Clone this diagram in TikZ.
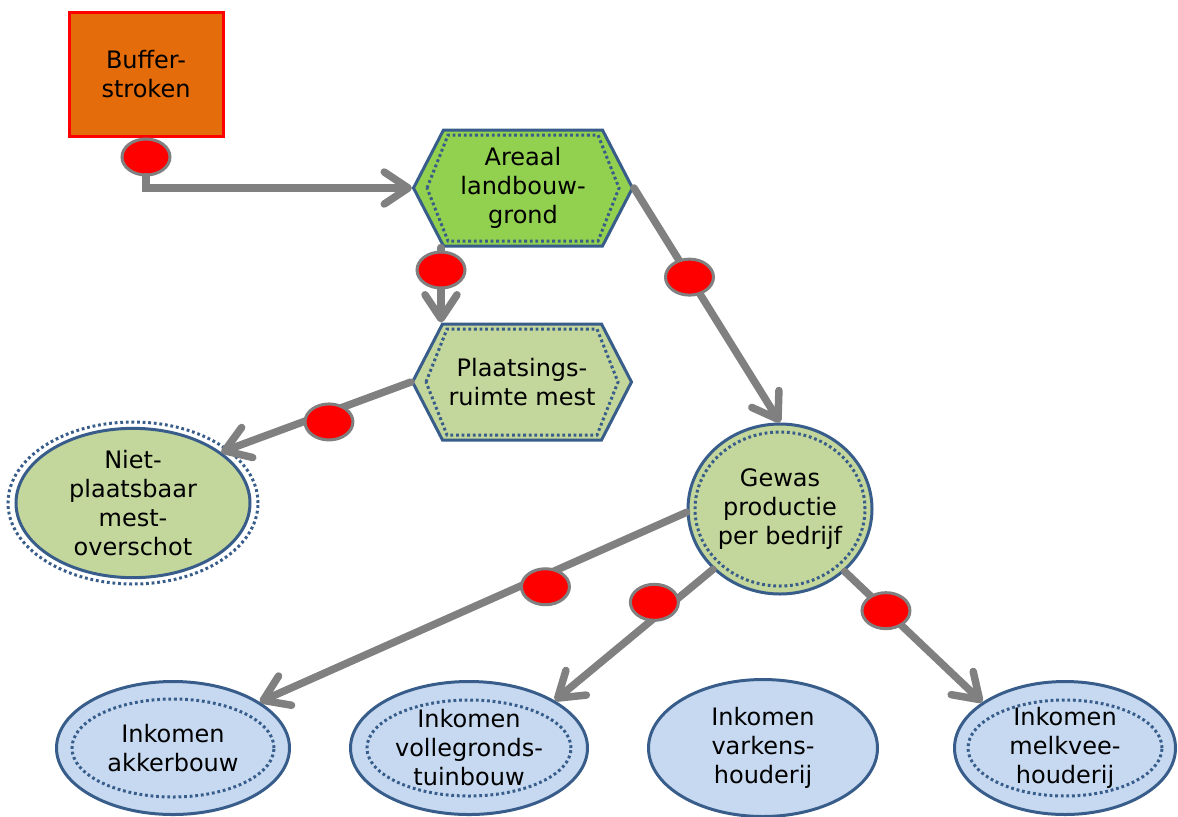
\documentclass[tikz,border=0pt]{standalone}
\usepackage{fontspec}
\setmainfont{DejaVu Sans}
\usetikzlibrary{positioning,shapes.geometric,arrows.meta}

\begin{document}
\begin{tikzpicture}[x=0.5pt,y=-0.5pt,
    every node/.style={font=\fontsize{12}{14.5}\selectfont, align=center, inner sep=0pt},
    box/.style={draw=red, line width=1.5pt, fill=bufferorange, minimum width=77pt, minimum height=62pt},
    ring/.style={draw=borderblue, line width=1.5pt, dash pattern=on 1.4pt off 1.4pt},
    hexa/.style={rectangle, outer sep=0pt, minimum width=111pt, minimum height=59.5pt,
        path picture={
            \filldraw[draw=borderblue, fill=#1, line width=1.5pt] (path picture bounding box.center)
                ++(-109.5,0) -- ++(30,-58) -- ++(159,0) -- ++(30,58) -- ++(-30,58) -- ++(-159,0) -- cycle;
            \draw[ring] (path picture bounding box.center)
                ++(-96,0) -- ++(21,-53) -- ++(150,0) -- ++(21,53) -- ++(-21,53) -- ++(-150,0) -- cycle;
        }},
    oval/.style={ellipse, draw=borderblue, line width=1.5pt},
    conn/.style={draw=linegray, line width=3.75pt, line cap=round, -{Straight Barb[length=12pt,width=16pt,round]}},
    marker/.style={ellipse, draw=linegray, line width=1.5pt, fill=red, minimum width=24pt, minimum height=18pt}
]
        % Define colors
        \definecolor{bufferorange}{RGB}{228,108,10}
        \definecolor{areaalgreen}{RGB}{146,208,80}
        \definecolor{olivelight}{RGB}{195,214,155}
        \definecolor{lightblue}{RGB}{198,217,241}
        \definecolor{borderblue}{RGB}{56,93,138}
        \definecolor{linegray}{RGB}{128,128,128}

        \useasboundingbox (0,0) rectangle (1178,816);

        % Boxes
        \node[box] (buffer) at (146,74) {Buffer-\\stroken};
        \node[marker, below=0pt of buffer] (mbuf) {};
        \node[hexa=areaalgreen] (areaal) at (523,188) {Areaal\\landbouw-\\grond};
        \node[hexa=olivelight] (plaatsing) at (522,382) {Plaatsings-\\ruimte mest};
        \node[oval, fill=olivelight, minimum width=117pt, minimum height=74pt] (niet) at (133,503) {Niet-\\plaatsbaar\\mest-\\overschot};
        \node[oval, fill=olivelight, minimum width=92pt, minimum height=85pt] (gewas) at (780,509) {Gewas\\productie\\per bedrijf};

        % Income
        \node[oval, fill=lightblue, minimum width=116.5pt, minimum height=66.5pt] (akker) at (173,748) {Inkomen\\akkerbouw};
        \node[oval, fill=lightblue, minimum width=118.5pt, minimum height=66.5pt] (volle) at (469,748) {Inkomen\\vollegronds-\\tuinbouw};
        \node[oval, fill=lightblue, minimum width=114.5pt, minimum height=68.5pt] (varkens) at (763,748) {Inkomen\\varkens-\\houderij};
        \node[oval, fill=lightblue, minimum width=110.5pt, minimum height=66.5pt] (melkvee) at (1065,748) {Inkomen\\melkvee-\\houderij};

        % Dotted rings
        \draw[ring] (niet.center) ellipse [x radius=62.5pt, y radius=40.5pt];
        \draw[ring] (gewas.center) ellipse [x radius=42.5pt, y radius=38.5pt];
        \draw[ring] (akker.center) ellipse [x radius=50.5pt, y radius=24.5pt];
        \draw[ring] (volle.center) ellipse [x radius=51pt, y radius=24pt];
        \draw[ring] (melkvee.center) ellipse [x radius=48.5pt, y radius=24pt];

        % Connectors
        \draw[conn] (mbuf) |- (areaal.west);
        \draw[conn] ([xshift=-41pt]areaal.south) -- node[marker, pos=0.3] (m2) {} ([xshift=-41pt]areaal.south |- plaatsing.north);
        \draw[conn] (areaal.east) -- node[marker, pos=0.38] (m3) {} (gewas.north);
        \draw[conn] (plaatsing.west) -- node[marker, pos=0.45, xshift=1.7pt, yshift=-4.2pt] (m4) {} (niet.30);
        \draw[conn] (gewas.182) -- node[marker, pos=0.34, xshift=2pt, yshift=-5pt] (m5) {} (akker.28);
        \draw[conn] (gewas.222) -- node[marker, pos=0.32, xshift=-4pt, yshift=4.5pt] (m6) {} (volle.29);
        \draw[conn] (gewas.316) -- node[marker, pos=0.3] (m7) {} (melkvee.151);

\end{tikzpicture}
\end{document}
